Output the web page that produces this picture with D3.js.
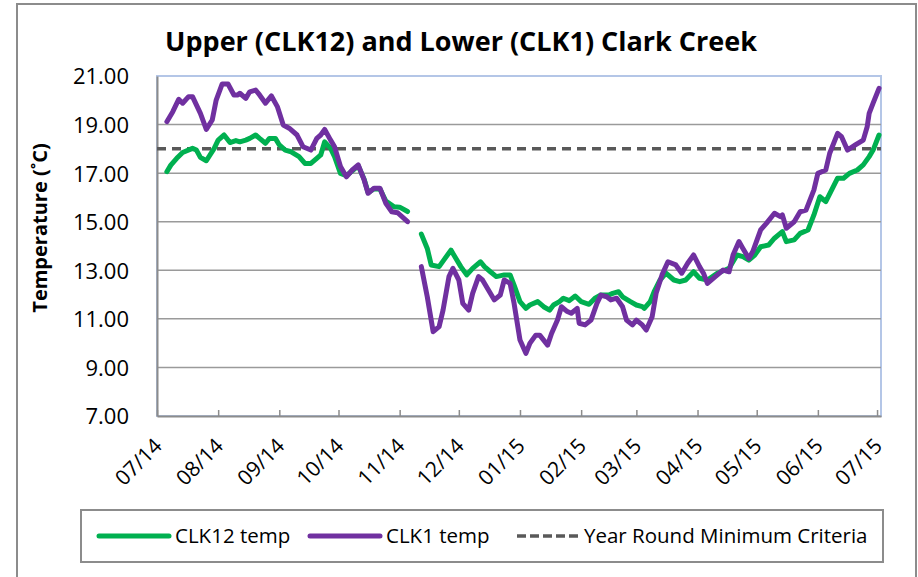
<!DOCTYPE html>
<html>
<head>
<meta charset="utf-8">
<script src="https://cdnjs.cloudflare.com/ajax/libs/d3/7.8.5/d3.min.js"></script>
<style>
  body { margin: 0; background: #fff; }
  text { font-family: 'Open Sans', sans-serif; fill: #000; }
</style>
</head>
<body>
<div id="chart"></div>
<script>
// CLK12 (upper) daily temperature; null = logger gap
const clk12 = [
  ["2014-07-06", 17.06], ["2014-07-08", 17.33], ["2014-07-11", 17.61], ["2014-07-14", 17.85],
  ["2014-07-19", 18.02], ["2014-07-21", 17.95], ["2014-07-23", 17.65], ["2014-07-26", 17.51],
  ["2014-07-30", 18.02], ["2014-08-01", 18.36], ["2014-08-04", 18.57], ["2014-08-07", 18.26],
  ["2014-08-10", 18.34], ["2014-08-12", 18.29], ["2014-08-15", 18.36], ["2014-08-17", 18.43],
  ["2014-08-20", 18.57], ["2014-08-22", 18.43], ["2014-08-25", 18.23], ["2014-08-27", 18.43],
  ["2014-08-30", 18.43], ["2014-09-01", 18.16], ["2014-09-04", 17.95], ["2014-09-07", 17.88],
  ["2014-09-11", 17.68], ["2014-09-14", 17.40], ["2014-09-17", 17.40], ["2014-09-20", 17.61],
  ["2014-09-22", 17.75], ["2014-09-24", 18.29], ["2014-09-27", 18.02], ["2014-09-29", 17.68],
  ["2014-10-02", 16.99], ["2014-10-05", 16.90], ["2014-10-08", 17.10], ["2014-10-11", 17.30],
  ["2014-10-14", 16.75], ["2014-10-16", 16.20], ["2014-10-19", 16.35], ["2014-10-22", 16.35],
  ["2014-10-25", 15.85], ["2014-10-29", 15.62], ["2014-11-01", 15.60], ["2014-11-05", 15.42],
  ["2014-11-08", null],
  ["2014-11-12", 14.49], ["2014-11-15", 13.90], ["2014-11-17", 13.22], ["2014-11-21", 13.15],
  ["2014-11-24", 13.49], ["2014-11-27", 13.83], ["2014-11-29", 13.56], ["2014-12-02", 13.15],
  ["2014-12-05", 12.81], ["2014-12-08", 13.08], ["2014-12-12", 13.35], ["2014-12-14", 13.15],
  ["2014-12-17", 12.94], ["2014-12-20", 12.74], ["2014-12-24", 12.81], ["2014-12-27", 12.81],
  ["2014-12-29", 12.39], ["2015-01-01", 11.71], ["2015-01-04", 11.43], ["2015-01-06", 11.57],
  ["2015-01-10", 11.71], ["2015-01-13", 11.50], ["2015-01-16", 11.36], ["2015-01-18", 11.57],
  ["2015-01-21", 11.71], ["2015-01-23", 11.85], ["2015-01-26", 11.75], ["2015-01-29", 11.94],
  ["2015-02-01", 11.71], ["2015-02-05", 11.60], ["2015-02-08", 11.85], ["2015-02-11", 11.98],
  ["2015-02-15", 11.98], ["2015-02-17", 12.05], ["2015-02-20", 12.12], ["2015-02-22", 11.91],
  ["2015-02-26", 11.71], ["2015-03-01", 11.57], ["2015-03-04", 11.50], ["2015-03-05", 11.43],
  ["2015-03-08", 11.71], ["2015-03-10", 12.12], ["2015-03-13", 12.60], ["2015-03-16", 12.88],
  ["2015-03-20", 12.60], ["2015-03-23", 12.53], ["2015-03-26", 12.60], ["2015-03-30", 12.94],
  ["2015-04-02", 12.67], ["2015-04-06", 12.60], ["2015-04-11", 12.88], ["2015-04-15", 13.01],
  ["2015-04-17", 13.08], ["2015-04-21", 13.63], ["2015-04-24", 13.56], ["2015-04-27", 13.42],
  ["2015-04-30", 13.63], ["2015-05-03", 13.97], ["2015-05-07", 14.04], ["2015-05-10", 14.32],
  ["2015-05-14", 14.59], ["2015-05-16", 14.18], ["2015-05-20", 14.25], ["2015-05-23", 14.52],
  ["2015-05-27", 14.66], ["2015-05-30", 15.28], ["2015-06-02", 16.03], ["2015-06-05", 15.83],
  ["2015-06-08", 16.31], ["2015-06-11", 16.79], ["2015-06-14", 16.79], ["2015-06-17", 16.99],
  ["2015-06-21", 17.13], ["2015-06-24", 17.34], ["2015-06-27", 17.68], ["2015-06-29", 17.95],
  ["2015-07-02", 18.57]
];

// CLK1 (lower) daily temperature
const clk1 = [
  ["2014-07-06", 19.12], ["2014-07-09", 19.53], ["2014-07-12", 20.04], ["2014-07-14", 19.88],
  ["2014-07-17", 20.15], ["2014-07-19", 20.15], ["2014-07-23", 19.46], ["2014-07-26", 18.80],
  ["2014-07-29", 19.19], ["2014-07-31", 20.01], ["2014-08-03", 20.67], ["2014-08-06", 20.67],
  ["2014-08-09", 20.22], ["2014-08-11", 20.22], ["2014-08-12", 20.29], ["2014-08-15", 20.08],
  ["2014-08-17", 20.35], ["2014-08-20", 20.42], ["2014-08-22", 20.22], ["2014-08-25", 19.88],
  ["2014-08-28", 20.18], ["2014-08-31", 19.74], ["2014-09-03", 18.98], ["2014-09-06", 18.85],
  ["2014-09-10", 18.57], ["2014-09-13", 18.09], ["2014-09-17", 17.95], ["2014-09-20", 18.43],
  ["2014-09-22", 18.57], ["2014-09-24", 18.80], ["2014-09-27", 18.36], ["2014-09-29", 18.09],
  ["2014-10-02", 17.27], ["2014-10-05", 16.85], ["2014-10-08", 17.13], ["2014-10-11", 17.34],
  ["2014-10-14", 16.72], ["2014-10-16", 16.17], ["2014-10-19", 16.38], ["2014-10-22", 16.38],
  ["2014-10-25", 15.76], ["2014-10-28", 15.41], ["2014-10-31", 15.37], ["2014-11-05", 15.00],
  ["2014-11-08", null],
  ["2014-11-12", 13.15], ["2014-11-15", 11.91], ["2014-11-18", 10.47], ["2014-11-21", 10.68],
  ["2014-11-23", 11.36], ["2014-11-26", 12.74], ["2014-11-28", 13.08], ["2014-12-01", 12.60],
  ["2014-12-03", 11.64], ["2014-12-06", 11.36], ["2014-12-08", 12.05], ["2014-12-11", 12.74],
  ["2014-12-13", 12.60], ["2014-12-16", 12.19], ["2014-12-19", 11.78], ["2014-12-22", 11.98],
  ["2014-12-24", 12.60], ["2014-12-27", 12.46], ["2014-12-29", 11.64], ["2015-01-01", 10.13],
  ["2015-01-04", 9.58], ["2015-01-06", 9.99], ["2015-01-09", 10.33], ["2015-01-11", 10.33],
  ["2015-01-15", 9.92], ["2015-01-17", 10.40], ["2015-01-20", 10.95], ["2015-01-22", 11.50],
  ["2015-01-25", 11.30], ["2015-01-27", 11.23], ["2015-01-30", 11.43], ["2015-01-31", 10.82],
  ["2015-02-03", 10.75], ["2015-02-06", 10.95], ["2015-02-09", 11.64], ["2015-02-11", 11.98],
  ["2015-02-14", 11.91], ["2015-02-16", 11.78], ["2015-02-19", 11.85], ["2015-02-22", 11.50],
  ["2015-02-24", 10.95], ["2015-02-27", 10.75], ["2015-03-01", 10.95], ["2015-03-04", 10.75],
  ["2015-03-06", 10.54], ["2015-03-09", 11.09], ["2015-03-11", 12.05], ["2015-03-14", 12.81],
  ["2015-03-17", 13.35], ["2015-03-21", 13.22], ["2015-03-24", 12.88], ["2015-03-27", 13.29],
  ["2015-03-30", 13.63], ["2015-04-02", 13.15], ["2015-04-04", 12.88], ["2015-04-06", 12.46],
  ["2015-04-10", 12.74], ["2015-04-14", 13.01], ["2015-04-17", 12.94], ["2015-04-19", 13.63],
  ["2015-04-22", 14.18], ["2015-04-24", 13.90], ["2015-04-27", 13.49], ["2015-04-29", 13.77],
  ["2015-05-03", 14.66], ["2015-05-06", 14.94], ["2015-05-10", 15.35], ["2015-05-13", 15.21],
  ["2015-05-14", 15.28], ["2015-05-16", 14.73], ["2015-05-20", 15.00], ["2015-05-23", 15.41],
  ["2015-05-26", 15.48], ["2015-05-30", 16.31], ["2015-06-01", 16.99], ["2015-06-05", 17.13],
  ["2015-06-07", 17.82], ["2015-06-11", 18.64], ["2015-06-13", 18.50], ["2015-06-16", 17.95],
  ["2015-06-20", 18.16], ["2015-06-24", 18.36], ["2015-06-26", 18.91], ["2015-06-27", 19.46],
  ["2015-06-29", 19.88], ["2015-07-02", 20.49]
];

const criteria = 18.0;
const yTicks = [7, 9, 11, 13, 15, 17, 19, 21];
const xStart = "2014-07-01", xEnd = "2015-07-03";

const W = 918, H = 577;
const margin = { left: 157, right: 37, top: 76, bottom: 161 };
const parse = d3.timeParse("%Y-%m-%d");

const svg = d3.select("#chart").append("svg")
  .attr("width", W)
  .attr("height", H);

// outer chart border
svg.append("rect")
  .attr("x", 17).attr("y", 4)
  .attr("width", 899).attr("height", 600)
  .style("fill", "#fff")
  .style("stroke", "#8c8c8c")
  .style("stroke-width", 2);

const x = d3.scaleTime()
  .domain([parse(xStart), parse(xEnd)])
  .range([margin.left, W - margin.right]);

const y = d3.scaleLinear()
  .domain([7, 21])
  .range([H - margin.bottom, margin.top]);

// title
svg.append("text")
  .attr("x", 461).attr("y", 51)
  .attr("text-anchor", "middle")
  .style("font-size", "27px")
  .style("font-weight", "bold")
  .text("Upper (CLK12) and Lower (CLK1) Clark Creek");

// plot area frame (light blue)
svg.append("rect")
  .attr("x", x.range()[0]).attr("y", y.range()[1])
  .attr("width", x.range()[1] - x.range()[0])
  .attr("height", y.range()[0] - y.range()[1])
  .style("fill", "none")
  .style("stroke", "#b4c6e7")
  .style("stroke-width", 2);

// horizontal gridlines
svg.append("g")
  .selectAll("line")
  .data(yTicks.filter(d => d !== 7 && d !== 21))
  .enter().append("line")
  .attr("x1", x.range()[0]).attr("x2", x.range()[1])
  .attr("y1", d => y(d)).attr("y2", d => y(d))
  .style("stroke", "#9a9a9a")
  .style("stroke-width", 1.5);

// y axis
const yAxis = svg.append("g")
  .attr("transform", "translate(" + margin.left + ",0)")
  .call(d3.axisLeft(y).tickValues(yTicks).tickSize(0).tickPadding(28).tickFormat(d3.format(".2f")));
yAxis.select(".domain").style("stroke", "#8c8c8c").style("stroke-width", 2);
yAxis.selectAll("text")
  .style("font-size", "22px")
  .style("font-family", "'Open Sans', sans-serif")
  .attr("dy", "0.36em");

// x axis, ticks pointing up into the plot
const months = d3.timeMonth.range(parse("2014-07-01"), parse("2015-07-02"));
const xAxis = svg.append("g")
  .attr("transform", "translate(0," + y(7) + ")")
  .call(d3.axisBottom(x).tickValues(months).tickSizeInner(-6).tickSizeOuter(0).tickFormat(""));
xAxis.select(".domain").style("stroke", "#8c8c8c").style("stroke-width", 2);
xAxis.selectAll(".tick line").style("stroke", "#8c8c8c").style("stroke-width", 1.5);

svg.append("g")
  .selectAll("text")
  .data(months)
  .enter().append("text")
  .attr("transform", d => "translate(" + (x(d) + 1) + "," + (y(7) + 26) + ") rotate(-45)")
  .attr("text-anchor", "end")
  .attr("dy", "0.36em")
  .style("font-size", "21px")
  .text(d3.timeFormat("%m/%y"));

// y axis title
svg.append("text")
  .attr("transform", "translate(47,228) rotate(-90)")
  .attr("text-anchor", "middle")
  .style("font-size", "20px")
  .style("font-weight", "bold")
  .text("Temperature (\u02DAC)");

const line = d3.line()
  .defined(d => d[1] !== null)
  .x(d => x(parse(d[0])))
  .y(d => y(d[1]));

// criteria dashed line
svg.append("line")
  .attr("x1", x.range()[0]).attr("x2", x.range()[1])
  .attr("y1", y(criteria)).attr("y2", y(criteria))
  .style("stroke", "#595959")
  .style("stroke-width", 3.5)
  .style("stroke-dasharray", "9,6");

svg.append("path")
  .datum(clk12)
  .attr("d", line)
  .style("fill", "none")
  .style("stroke", "#00b050")
  .style("stroke-width", 5)
  .style("stroke-linejoin", "round")
  .style("stroke-linecap", "round");

svg.append("path")
  .datum(clk1)
  .attr("d", line)
  .style("fill", "none")
  .style("stroke", "#7030a0")
  .style("stroke-width", 5)
  .style("stroke-linejoin", "round")
  .style("stroke-linecap", "round");

// legend
const legendItems = [
  { name: "CLK12 temp", color: "#00b050", dash: null, x: 99 },
  { name: "CLK1 temp", color: "#7030a0", dash: null, x: 310 },
  { name: "Year Round Minimum Criteria", color: "#595959", dash: "9,4", x: 517 }
];

const legend = svg.append("g");
legend.append("rect")
  .attr("x", 81).attr("y", 510)
  .attr("width", 802).attr("height", 52)
  .style("fill", "#fff")
  .style("stroke", "#8c8c8c")
  .style("stroke-width", 2);

const li = legend.selectAll("g.item")
  .data(legendItems)
  .enter().append("g")
  .attr("class", "item")
  .attr("transform", d => "translate(" + d.x + ",536)");

li.append("line")
  .attr("x1", 0).attr("x2", d => d.dash ? 65 : 70)
  .style("stroke", d => d.color)
  .style("stroke-width", d => d.dash ? 3.5 : 5)
  .style("stroke-linecap", d => d.dash ? "butt" : "round")
  .style("stroke-dasharray", d => d.dash);

li.append("text")
  .attr("x", d => d.dash ? 67 : 76)
  .attr("y", 7)
  .style("font-size", "20.5px")
  .text(d => d.name);
</script>
</body>
</html>
